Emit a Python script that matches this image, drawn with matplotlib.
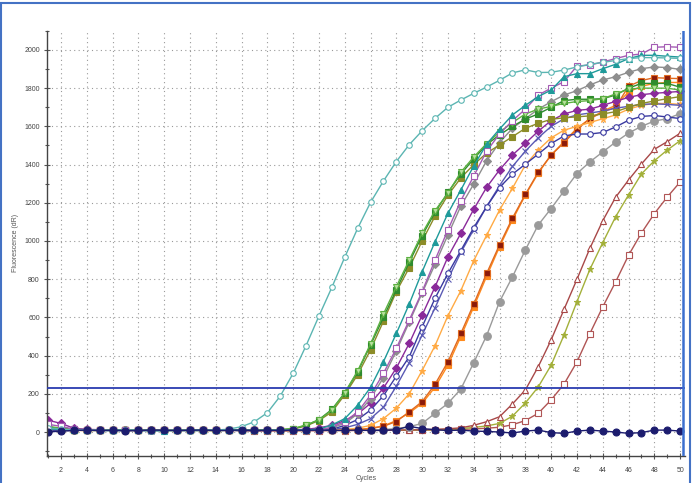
import numpy as np
import matplotlib.pyplot as plt
from matplotlib.patches import Rectangle
from matplotlib.ticker import MultipleLocator

plt.rcParams['font.family'] = ['Liberation Sans', 'DejaVu Sans']

cycles = list(range(1, 51))
threshold = 230

# amplification curves, one value per cycle (1..50)
teal_circ = [22, 15, 10, 8, 9, 7, 8, 9, 6, 8,
             9, 7, 8, 10, 15, 28, 54, 101, 188, 307,
             452, 607, 757, 915, 1066, 1202, 1314, 1416, 1504, 1577,
             1642, 1700, 1738, 1773, 1806, 1841, 1880, 1896, 1882, 1883,
             1895, 1911, 1925, 1935, 1945, 1955, 1960, 1960, 1958, 1956]
green_tri = [30, 20, 14, 12, 10, 12, 9, 10, 8, 9,
             10, 8, 9, 8, 10, 9, 11, 10, 12, 18,
             37, 63, 115, 205, 320, 461, 618, 761, 900, 1040,
             1159, 1250, 1360, 1440, 1510, 1570, 1620, 1665, 1690, 1705,
             1720, 1730, 1735, 1745, 1770, 1795, 1800, 1800, 1800, 1790]
dkgreen_sq = [25, 18, 12, 10, 11, 9, 10, 8, 9, 10,
              8, 9, 10, 8, 9, 10, 9, 11, 12, 17,
              35, 65, 118, 205, 315, 455, 600, 745, 888, 1028,
              1150, 1255, 1350, 1430, 1505, 1555, 1600, 1638, 1665, 1700,
              1735, 1742, 1742, 1745, 1764, 1800, 1825, 1825, 1825, 1805]
olive_sq = [28, 16, 12, 9, 10, 8, 9, 10, 8, 9,
            10, 9, 8, 9, 10, 8, 10, 9, 11, 16,
            32, 60, 105, 195, 300, 430, 580, 735, 860, 1000,
            1130, 1240, 1330, 1400, 1460, 1503, 1546, 1590, 1616, 1637,
            1645, 1650, 1655, 1665, 1677, 1700, 1720, 1733, 1745, 1756]
teal_tri = [18, 12, 10, 9, 8, 9, 10, 8, 9, 7,
            8, 9, 10, 8, 9, 10, 8, 9, 10, 9,
            11, 15, 37, 70, 140, 234, 368, 516, 670, 839,
            996, 1145, 1267, 1393, 1507, 1586, 1660, 1710, 1756, 1790,
            1860, 1876, 1876, 1902, 1925, 1955, 1972, 1972, 1967, 1963]
purple_sq = [40, 30, 15, 12, 10, 9, 10, 8, 9, 10,
             8, 9, 10, 9, 8, 10, 9, 8, 10, 9,
             10, 12, 25, 55, 105, 193, 307, 438, 586, 735,
             900, 1058, 1211, 1340, 1470, 1560, 1630, 1690, 1764, 1800,
             1834, 1916, 1921, 1937, 1955, 1972, 1979, 2014, 2017, 2014]
gray_dia = [15, 12, 10, 9, 10, 8, 9, 10, 8, 9,
            10, 8, 9, 10, 9, 8, 10, 9, 8, 10,
            10, 12, 22, 45, 95, 175, 285, 425, 575, 728,
            878, 1032, 1183, 1298, 1420, 1515, 1590, 1640, 1690, 1729,
            1764, 1787, 1817, 1843, 1860, 1883, 1902, 1911, 1908, 1898]
purple_dia = [62, 45, 20, 14, 12, 10, 9, 10, 8, 9,
              10, 9, 8, 10, 9, 10, 8, 9, 10, 12,
              14, 22, 35, 60, 95, 150, 230, 335, 464, 612,
              760, 917, 1040, 1166, 1281, 1372, 1450, 1511, 1575, 1630,
              1665, 1684, 1690, 1710, 1731, 1752, 1766, 1773, 1778, 1783]
blue_circ = [5, 8, 9, 10, 8, 9, 7, 8, 9, 10,
             8, 9, 10, 8, 9, 7, 8, 9, 10, 9,
             10, 11, 14, 35, 65, 115, 190, 292, 394, 551,
             700, 830, 950, 1070, 1180, 1280, 1350, 1402, 1455, 1510,
             1550, 1560, 1560, 1568, 1597, 1632, 1652, 1657, 1649, 1641]
blue_x = [10, 9, 8, 10, 9, 8, 10, 9, 7, 8,
          9, 10, 8, 9, 10, 8, 9, 10, 8, 9,
          10, 11, 13, 22, 40, 70, 130, 240, 363, 508,
          650, 800, 940, 1060, 1180, 1290, 1390, 1470, 1540, 1600,
          1640, 1660, 1670, 1680, 1695, 1705, 1715, 1718, 1715, 1710]
orange_star = [12, 10, 9, 8, 9, 10, 8, 9, 10, 8,
               9, 8, 10, 9, 8, 9, 10, 8, 9, 10,
               9, 10, 11, 13, 20, 35, 70, 125, 200, 322,
               452, 609, 740, 897, 1030, 1162, 1276, 1398, 1476, 1540,
               1580, 1600, 1620, 1640, 1660, 1690, 1710, 1720, 1720, 1715]
darkred_sq = [10, 8, 9, 10, 8, 9, 10, 8, 9, 10,
              8, 9, 10, 8, 9, 10, 8, 9, 10, 8,
              9, 10, 9, 10, 12, 18, 30, 55, 106, 159,
              250, 368, 516, 670, 830, 980, 1120, 1244, 1360, 1450,
              1515, 1585, 1640, 1675, 1700, 1810, 1840, 1855, 1852, 1850]
orange_sq = [8, 9, 10, 8, 9, 10, 8, 9, 10, 9,
             8, 10, 9, 8, 10, 9, 8, 10, 9, 8,
             10, 9, 10, 11, 13, 20, 32, 60, 100, 150,
             235, 350, 500, 655, 815, 970, 1110, 1240, 1355, 1450,
             1520, 1590, 1640, 1680, 1710, 1780, 1810, 1825, 1830, 1830]
gray_circ = [10, 9, 8, 10, 9, 8, 10, 9, 8, 10,
             9, 8, 10, 9, 8, 10, 9, 8, 10, 9,
             8, 10, 9, 10, 9, 11, 13, 18, 28, 45,
             98, 150, 225, 363, 505, 682, 812, 953, 1084, 1170,
             1262, 1353, 1414, 1466, 1518, 1565, 1600, 1628, 1640, 1667]
brown_tri = [15, 12, 10, 8, 9, 10, 8, 9, 10, 8,
             9, 10, 8, 9, 10, 8, 9, 10, 8, 9,
             10, 8, 9, 10, 9, 10, 9, 10, 11, 12,
             14, 17, 22, 35, 54, 80, 147, 220, 342, 482,
             642, 799, 961, 1106, 1229, 1319, 1403, 1480, 1520, 1564]
yg_star = [20, 14, 10, 9, 8, 10, 9, 8, 10, 9,
           8, 10, 9, 8, 10, 9, 8, 10, 9, 8,
           9, 10, 9, 8, 10, 9, 10, 9, 10, 11,
           12, 14, 18, 24, 32, 45, 83, 152, 236, 350,
           508, 682, 851, 991, 1127, 1241, 1351, 1420, 1476, 1525]
brown_sq = [12, 10, 9, 8, 10, 9, 8, 10, 9, 8,
            10, 9, 8, 10, 9, 8, 5, 6, 5, 6,
            7, 6, 8, 7, 8, 9, 8, 10, 9, 10,
            11, 12, 14, 16, 20, 25, 38, 60, 98, 168,
            251, 367, 515, 655, 786, 925, 1042, 1143, 1230, 1309]
navy_circ = [0, 5, 8, 10, 8, 9, 7, 8, 10, 9,
             8, 9, 10, 8, 9, 10, 8, 9, 8, 10,
             9, 10, 8, 9, 10, 8, 9, 12, 30, 18,
             12, 8, 10, 5, 3, 0, -5, 5, 10, -3,
             -7, 5, 10, 5, 0, -7, -3, 10, 10, 5]

# (values, line colour, marker, face colour, marker size)
series = [
    (brown_sq, '#b05555', 's', 'white', 4),
    (yg_star, '#a3b03a', '*', '#a3b03a', 4.5),
    (brown_tri, '#a84848', '^', 'white', 4.5),
    (gray_circ, '#9a9a9a', 'o', '#9a9a9a', 5.5),
    (orange_sq, '#ff8a1c', 's', '#ff8a1c', 4),
    (darkred_sq, '#e06a20', 's', '#8b1a0a', 4),
    (orange_star, '#ffaa44', '*', '#ffaa44', 4.5),
    (blue_x, '#5a5ab4', 'x', '#5a5ab4', 4),
    (blue_circ, '#3a3aa0', 'o', 'white', 4),
    (purple_dia, '#8a2a9a', 'D', '#8a2a9a', 3.8),
    (gray_dia, '#8e8e8e', 'D', '#8e8e8e', 3.8),
    (olive_sq, '#8c8c28', 's', '#8c8c28', 4),
    (dkgreen_sq, '#2e8b2e', 's', '#2e8b2e', 3.8),
    (green_tri, '#5cb040', 'v', '#b8e0a0', 4.5),
    (purple_sq, '#a45cb4', 's', 'white', 4.5),
    (teal_tri, '#1f9a9a', '^', '#1f9a9a', 4),
    (teal_circ, '#5bb5b2', 'o', 'white', 4),
    (navy_circ, '#1c1c6e', 'o', '#1c1c6e', 5),
]

fig = plt.figure(figsize=(6.92, 4.83), dpi=100)
ax = fig.add_axes([0.0685, 0.0561, 0.9218, 0.880])

for vals, col, mk, fc, ms in series:
    ax.plot(cycles, vals, color=col, lw=1.0, marker=mk, markersize=ms,
            markerfacecolor=fc, markeredgecolor=col, markeredgewidth=0.8)

ax.axhline(threshold, color='#2a3cb0', lw=1.3, zorder=5)
ax.axvline(50.25, color='#3b6fcf', lw=1.8, zorder=5)
ax.axvline(50.38, color='#a8c8f0', lw=0.8, zorder=5)

ax.set_xlim(0.95, 50.4)
ax.set_ylim(-125, 2100)

ax.xaxis.set_major_locator(MultipleLocator(2))
ax.xaxis.set_minor_locator(MultipleLocator(1))
ax.yaxis.set_major_locator(MultipleLocator(200))
ax.yaxis.set_minor_locator(MultipleLocator(100))
ax.set_xticks(list(range(2, 51, 2)))

ax.grid(True, which='major', color='#9a9a9a', lw=0.8, linestyle=(0, (1, 3)))
ax.tick_params(which='both', direction='inout', colors='#555555',
               labelsize=5, labelcolor='#444444')
ax.tick_params(which='major', length=4, width=0.8)
ax.tick_params(which='minor', length=3, width=0.8)
ax.tick_params(axis='x', pad=6)

for s in ['top', 'right']:
    ax.spines[s].set_visible(False)
for s in ['left', 'bottom']:
    ax.spines[s].set_color('#444444')
    ax.spines[s].set_linewidth(1.0)

ax.set_ylabel('Fluorescence (dR)', fontsize=5, color='#555555', labelpad=4)
fig.text(0.529, 0.009, 'Cycles', ha='center', va='center', fontsize=5,
         color='#555555')

fig.add_artist(Rectangle((0.002, -0.02), 0.995, 1.013, transform=fig.transFigure,
                         fill=False, ec='#4472c4', lw=1.5))

fig.savefig('out.png', dpi=100)
